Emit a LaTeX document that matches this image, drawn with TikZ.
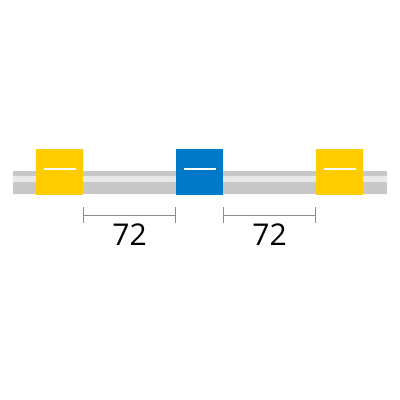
\documentclass[tikz,border=0pt]{standalone}
\usepackage{fontspec}
\setmainfont{Open Sans}
\usetikzlibrary{calc}
\definecolor{tubegray}{HTML}{C8C8C8}
\definecolor{tubelight}{HTML}{E8E8E8}
\definecolor{bandyellow}{HTML}{FFCC00}
\definecolor{bandblue}{HTML}{0079C8}
\definecolor{dimgray}{HTML}{8C8C8C}
\tikzset{
  band/.style={minimum width=47pt,minimum height=46pt,inner sep=0pt},
  dimline/.style={draw=dimgray,line width=0.8pt},
  dimlabel/.style={font=\fontsize{30}{30}\selectfont}
}

\begin{document}
\begin{tikzpicture}[x=1pt,y=-1pt]
\useasboundingbox (0,0) rectangle (400,400);
\fill[white] (0,0) rectangle (400,400);
% tube
\fill[tubegray] (13,171) rectangle (387,194);
\fill[tubelight] (13,176) rectangle (387,182);

% bands
\node[band,fill=bandyellow] (y1) at (59.5,172) {};
\node[band,fill=bandblue] (b1) at (199.5,172) {};
\node[band,fill=bandyellow] (y2) at (339.5,172) {};
\foreach \n in {y1,b1,y2}
  \draw[white,line width=2pt] ([xshift=-16pt,yshift=3pt]\n.center) -- ([xshift=16pt,yshift=3pt]\n.center);

% dimensions
\coordinate (d1) at (y1.east |- 0,215);
\coordinate (d2) at (b1.west |- 0,215);
\coordinate (d3) at (b1.east |- 0,215);
\coordinate (d4) at (y2.west |- 0,215);
\draw[dimline] (d1) -- (d2);
\draw[dimline] (d3) -- (d4);
\foreach \c in {d1,d2,d3,d4}
  \draw[dimline] ([yshift=8pt]\c) -- ([yshift=-8pt]\c);
\node[dimlabel] (l1) at ($(d1)!0.5!(d2)+(0,20)$) {72};
\node[dimlabel] (l2) at ($(d3)!0.5!(d4)+(0,20)$) {72};

\end{tikzpicture}
\end{document}
